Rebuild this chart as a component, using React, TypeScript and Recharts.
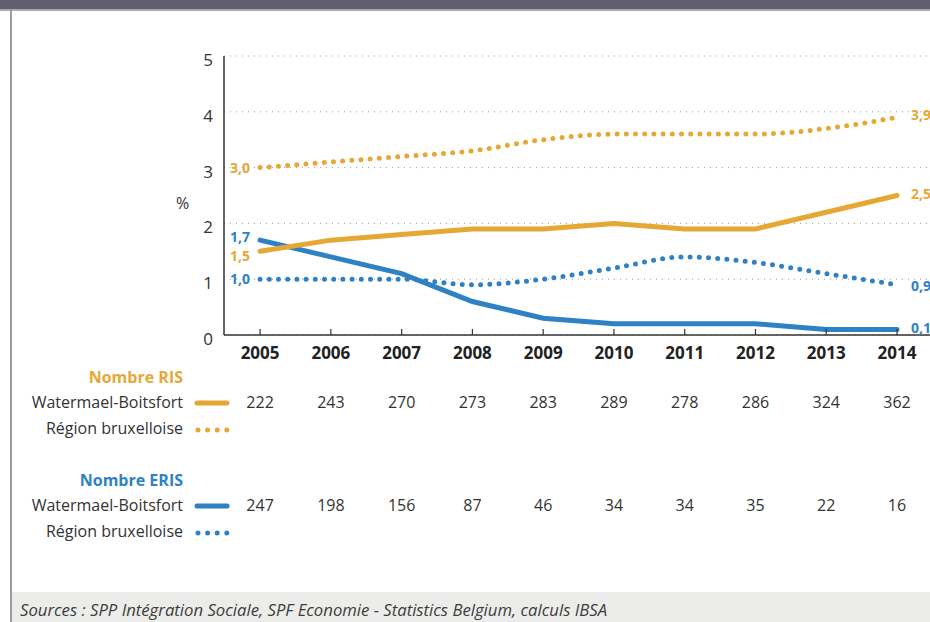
import { CartesianGrid, LabelList, Line, LineChart, XAxis, YAxis } from "recharts";

const years = [2005, 2006, 2007, 2008, 2009, 2010, 2011, 2012, 2013, 2014];
const risCommune = [1.5, 1.7, 1.8, 1.9, 1.9, 2.0, 1.9, 1.9, 2.2, 2.5];
const risRegion = [3.0, 3.1, 3.2, 3.3, 3.5, 3.6, 3.6, 3.6, 3.7, 3.9];
const erisCommune = [1.7, 1.4, 1.1, 0.6, 0.3, 0.2, 0.2, 0.2, 0.1, 0.1];
const erisRegion = [1.0, 1.0, 1.0, 0.9, 1.0, 1.2, 1.4, 1.3, 1.1, 0.9];
const risCount = [222, 243, 270, 273, 283, 289, 278, 286, 324, 362];
const erisCount = [247, 198, 156, 87, 46, 34, 34, 35, 22, 16];
const yTicks = [0, 1, 2, 3, 4, 5];

const ORANGE = "#E6A835";
const BLUE = "#2F81C5";
const TEXT = "#333";
const FONT = "'Open Sans', sans-serif";

// plot geometry, shared by the chart and the table below it
const W = 930;
const PLOT_LEFT = 224;
const X_DOMAIN: [number, number] = [2004.49, 2014.466];
const xPos = (yr: number) =>
  PLOT_LEFT + ((yr - X_DOMAIN[0]) / (X_DOMAIN[1] - X_DOMAIN[0])) * (W - PLOT_LEFT);

const data = years.map((y, i) => ({
  year: y,
  risCommune: risCommune[i],
  risRegion: risRegion[i],
  erisCommune: erisCommune[i],
  erisRegion: erisRegion[i],
}));

const fmt = (v: number) => v.toFixed(1).replace(".", ",");

function endLabels(color: string, dyFirst: number, dyLast: number) {
  return (p: any) => {
    const { x, y, value, index } = p;
    if (index !== 0 && index !== years.length - 1) return null;
    const first = index === 0;
    return (
      <text
        x={first ? x - 10 : x + 14}
        y={y + (first ? dyFirst : dyLast)}
        dy="0.35em"
        textAnchor={first ? "end" : "start"}
        fill={color}
        fontSize={14}
        fontWeight={700}
        fontFamily={FONT}
      >
        {fmt(Number(value))}
      </text>
    );
  };
}

function YearTick(p: any) {
  const { x, y, payload } = p;
  return (
    <g>
      <line x1={x} x2={x} y1={y - 6} y2={y} stroke={TEXT} strokeWidth={1.2} />
      <text x={x} y={y + 18} dy="0.35em" textAnchor="middle" fill="#222" fontSize={17} fontWeight={700} fontFamily={FONT}>
        {payload.value}
      </text>
    </g>
  );
}

function Swatch({ color, dotted, y }: { color: string; dotted?: boolean; y: number }) {
  return (
    <svg style={{ position: "absolute", left: 190, top: y - 6, width: 45, height: 12 }}>
      <line
        x1={dotted ? 8 : 7}
        x2={37}
        y1={6}
        y2={6}
        stroke={color}
        strokeWidth={5}
        strokeLinecap="round"
        strokeDasharray={dotted ? "0 9.6" : undefined}
      />
    </svg>
  );
}

function Label({ text, y, color, bold }: { text: string; y: number; color?: string; bold?: boolean }) {
  return (
    <div
      style={{
        position: "absolute",
        right: W - 183,
        top: y - 12,
        lineHeight: "24px",
        fontSize: 16,
        fontWeight: bold ? 700 : 400,
        color: color || TEXT,
        whiteSpace: "nowrap",
      }}
    >
      {text}
    </div>
  );
}

function Counts({ values, y }: { values: number[]; y: number }) {
  return (
    <>
      {values.map((v, i) => (
        <div
          key={i}
          style={{
            position: "absolute",
            left: xPos(years[i]) - 30,
            width: 60,
            top: y - 12,
            lineHeight: "24px",
            textAlign: "center",
            fontSize: 16,
            color: TEXT,
          }}
        >
          {v}
        </div>
      ))}
    </>
  );
}

export default function App() {
  return (
    <div
      style={{
        position: "absolute",
        left: 0,
        top: 0,
        width: W,
        height: 622,
        overflow: "hidden",
        background: "#fff",
        fontFamily: FONT,
      }}
    >
      <div style={{ position: "absolute", left: 0, top: 0, width: W, height: 9, background: "#605f6d" }} />
      <div style={{ position: "absolute", left: 0, top: 9, width: W, height: 2, background: "#a9a9b0" }} />
      <div style={{ position: "absolute", left: 10, top: 9, width: 2, height: 613, background: "#9d9d9d" }} />

      <div style={{ position: "absolute", left: 0, top: 0 }}>
        <LineChart width={W} height={380} data={data} margin={{ top: 56, right: 0, bottom: 0, left: 0 }}>
          <CartesianGrid horizontal vertical={false} stroke="#9a9a9a" strokeDasharray="1 5" />
          <XAxis
            dataKey="year"
            type="number"
            domain={X_DOMAIN}
            allowDataOverflow
            ticks={years}
            interval={0}
            height={45}
            axisLine={{ stroke: TEXT, strokeWidth: 1.5 }}
            tickLine={false}
            tickSize={0}
            tickMargin={0}
            tick={<YearTick />}
          />
          <YAxis
            domain={[0, 5]}
            ticks={yTicks}
            width={PLOT_LEFT}
            axisLine={{ stroke: TEXT, strokeWidth: 1.5 }}
            tickLine={false}
            tickSize={0}
            tickMargin={11}
            tick={{ fontSize: 17, fill: TEXT, fontFamily: FONT, dy: 4 }}
          />
          <Line
            dataKey="risRegion"
            type="monotone"
            stroke={ORANGE}
            strokeWidth={5}
            strokeLinecap="round"
            strokeDasharray="0 9.2"
            dot={false}
            isAnimationActive={false}
          >
            <LabelList dataKey="risRegion" content={endLabels(ORANGE, 0, -2)} />
          </Line>
          <Line
            dataKey="erisRegion"
            type="monotone"
            stroke={BLUE}
            strokeWidth={5}
            strokeLinecap="round"
            strokeDasharray="0 9.2"
            dot={false}
            isAnimationActive={false}
          >
            <LabelList dataKey="erisRegion" content={endLabels(BLUE, 0, 1)} />
          </Line>
          <Line
            dataKey="erisCommune"
            type="linear"
            stroke={BLUE}
            strokeWidth={5}
            strokeLinecap="round"
            dot={false}
            isAnimationActive={false}
          >
            <LabelList dataKey="erisCommune" content={endLabels(BLUE, -3, -1)} />
          </Line>
          <Line
            dataKey="risCommune"
            type="linear"
            stroke={ORANGE}
            strokeWidth={5}
            strokeLinecap="round"
            dot={false}
            isAnimationActive={false}
          >
            <LabelList dataKey="risCommune" content={endLabels(ORANGE, 5, -1)} />
          </Line>
        </LineChart>
      </div>

      <div style={{ position: "absolute", left: 176, top: 191, fontSize: 16, color: TEXT, lineHeight: "24px" }}>%</div>

      <Label text="Nombre RIS" y={377} color={ORANGE} bold />
      <Label text="Watermael-Boitsfort" y={402} />
      <Swatch color={ORANGE} y={403} />
      <Counts values={risCount} y={402} />
      <Label text="Région bruxelloise" y={428} />
      <Swatch color={ORANGE} dotted y={430} />

      <Label text="Nombre ERIS" y={480} color={BLUE} bold />
      <Label text="Watermael-Boitsfort" y={505} />
      <Swatch color={BLUE} y={506} />
      <Counts values={erisCount} y={505} />
      <Label text="Région bruxelloise" y={531} />
      <Swatch color={BLUE} dotted y={533} />

      <div style={{ position: "absolute", left: 12, top: 592, width: W - 12, height: 30, background: "#ecedeb" }} />
      <svg style={{ position: "absolute", left: 0, top: 592, width: W, height: 30 }}>
        <text
          x={20}
          y={24}
          fontSize={17}
          fontStyle="italic"
          fontFamily={FONT}
          fill="#3c3c3c"
          textLength={587}
          lengthAdjust="spacingAndGlyphs"
        >
          Sources : SPP Intégration Sociale, SPF Economie - Statistics Belgium, calculs IBSA
        </text>
      </svg>
    </div>
  );
}
